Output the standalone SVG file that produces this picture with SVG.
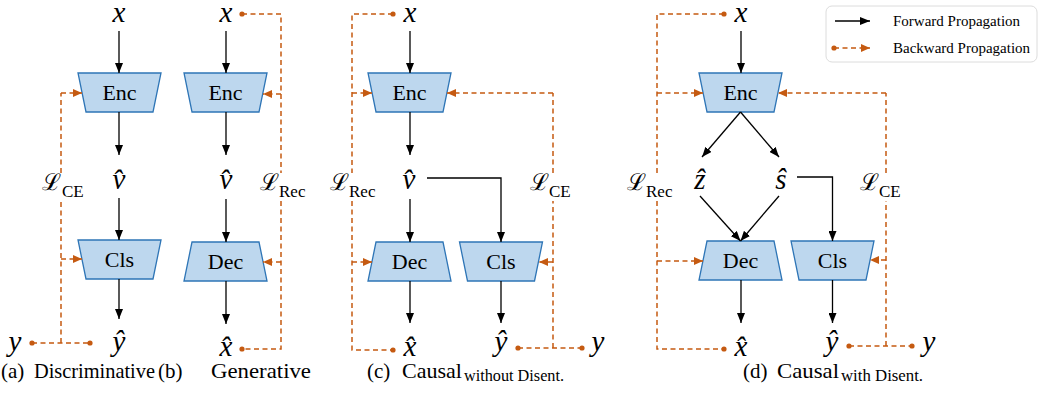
<svg xmlns="http://www.w3.org/2000/svg" width="1038" height="408" viewBox="0 0 1038 408">
<style>
.node{fill:#BDD7EE;stroke:#2E75B6;stroke-width:1.3}
.lbl{font-family:'Liberation Serif','Times New Roman',serif;font-size:22px;text-anchor:middle;fill:#000}
.m{font-family:'Liberation Serif','Times New Roman',serif;font-style:italic;font-size:29px;text-anchor:middle;fill:#000}
.cal{font-family:'DejaVu Serif','Liberation Serif',serif;font-size:23px;fill:#000}
.sub{font-family:'Liberation Serif','Times New Roman',serif;font-size:17px;fill:#000}
.fw{stroke:#000;stroke-width:1.3;fill:none;marker-end:url(#ah)}
.bw{stroke:#C55A11;stroke-width:1.5;fill:none;stroke-dasharray:5,3.5}
.bwa{stroke:#C55A11;stroke-width:1.5;fill:none;stroke-dasharray:5,3.5;marker-end:url(#oh)}
.dot{fill:#C55A11}
.cap{font-family:'Liberation Serif','Times New Roman',serif;font-size:21px;fill:#000}
.capsub{font-family:'Liberation Serif','Times New Roman',serif;font-size:16px;fill:#000}
.leg{font-family:'Liberation Serif','Times New Roman',serif;font-size:15px;fill:#000}
</style>
<defs>
<marker id="ah" markerWidth="10" markerHeight="8" refX="10" refY="4" orient="auto" markerUnits="userSpaceOnUse"><path d="M0,0 L10,4 L0,8 z" fill="#000"/></marker>
<marker id="oh" markerWidth="9" markerHeight="8" refX="9" refY="4" orient="auto" markerUnits="userSpaceOnUse"><path d="M0,0 L9,4 L0,8 z" fill="#C55A11"/></marker>
</defs>
<rect width="1038" height="408" fill="#fff"/>

<!-- Panel (a) -->
<g id="a-enc"><path class="node" d="M78,73 L161,73 L153,112 L86,112 Z"/><text class="lbl" x="119.5" y="100">Enc</text></g>
<g id="a-cls"><path class="node" d="M78,240 L161,240 L153,279 L86,279 Z"/><text class="lbl" x="119.5" y="267">Cls</text></g>
<g id="a-x"><text class="m" x="119" y="22">x</text></g>
<g id="a-v"><text class="m" x="119" y="189">v̂</text></g>
<g id="a-yhat"><text class="m" x="119" y="351">ŷ</text></g>
<g id="a-y"><text class="m" x="15" y="351">y</text></g>
<g id="a-loss"><text x="42" y="190"><tspan class="cal">ℒ</tspan><tspan class="sub" x="62" y="197">CE</tspan></text></g>

<!-- Panel (b) -->
<g id="b-enc"><path class="node" d="M184,73 L267,73 L259,112 L192,112 Z"/><text class="lbl" x="225.5" y="100">Enc</text></g>
<g id="b-dec"><path class="node" d="M192,242 L259,242 L267,281 L184,281 Z"/><text class="lbl" x="225.5" y="269">Dec</text></g>
<g id="b-x"><text class="m" x="226" y="22">x</text></g>
<g id="b-v"><text class="m" x="226" y="189">v̂</text></g>
<g id="b-xhat"><text class="m" x="226" y="356">x̂</text></g>
<g id="b-loss"><text x="260" y="190"><tspan class="cal">ℒ</tspan><tspan class="sub" x="279" y="197">Rec</tspan></text></g>

<!-- Panel (c) -->
<g id="c-enc"><path class="node" d="M368,73 L451,73 L443,112 L376,112 Z"/><text class="lbl" x="409.5" y="100">Enc</text></g>
<g id="c-dec"><path class="node" d="M376,242 L443,242 L451,281 L368,281 Z"/><text class="lbl" x="409.5" y="269">Dec</text></g>
<g id="c-cls"><path class="node" d="M459.5,242 L542.5,242 L534.5,281 L467.5,281 Z"/><text class="lbl" x="501" y="269">Cls</text></g>
<g id="c-x"><text class="m" x="410" y="22">x</text></g>
<g id="c-v"><text class="m" x="409" y="189">v̂</text></g>
<g id="c-xhat"><text class="m" x="410" y="356">x̂</text></g>
<g id="c-yhat"><text class="m" x="501" y="351">ŷ</text></g>
<g id="c-y"><text class="m" x="598" y="351">y</text></g>
<g id="c-lossrec"><text x="330" y="190"><tspan class="cal">ℒ</tspan><tspan class="sub" x="349" y="197">Rec</tspan></text></g>
<g id="c-lossce"><text x="530" y="190"><tspan class="cal">ℒ</tspan><tspan class="sub" x="549" y="197">CE</tspan></text></g>

<!-- Panel (d) -->
<g id="d-enc"><path class="node" d="M699,73 L782,73 L774,112 L707,112 Z"/><text class="lbl" x="740.5" y="100">Enc</text></g>
<g id="d-dec"><path class="node" d="M707,241 L774,241 L782,280 L699,280 Z"/><text class="lbl" x="740.5" y="268">Dec</text></g>
<g id="d-cls"><path class="node" d="M791,241 L874,241 L866,280 L799,280 Z"/><text class="lbl" x="832.5" y="268">Cls</text></g>
<g id="d-x"><text class="m" x="741" y="22">x</text></g>
<g id="d-z"><text class="m" x="700" y="189">ẑ</text></g>
<g id="d-s"><text class="m" x="781" y="189">ŝ</text></g>
<g id="d-xhat"><text class="m" x="741" y="356">x̂</text></g>
<g id="d-yhat"><text class="m" x="832" y="351">ŷ</text></g>
<g id="d-y"><text class="m" x="929" y="351">y</text></g>
<g id="d-lossrec"><text x="627" y="190"><tspan class="cal">ℒ</tspan><tspan class="sub" x="646" y="197">Rec</tspan></text></g>
<g id="d-lossce"><text x="860" y="190"><tspan class="cal">ℒ</tspan><tspan class="sub" x="879" y="197">CE</tspan></text></g>

<g id="connectors">
<path class="fw" d="M119,31 L119,73"/>
<path class="fw" d="M119,112 L119,155"/>
<path class="fw" d="M119,198 L119,240"/>
<path class="fw" d="M119,279 L119,319"/>
<path class="bw" d="M32,343 L90,343"/>
<path class="bw" d="M61,343 L61,201"/>
<path class="bw" d="M61,173 L61,93"/>
<path class="bwa" d="M61,93 L82,93"/>
<path class="bwa" d="M61,259 L82,259"/>
<circle class="dot" cx="32" cy="343" r="2.6"/><circle class="dot" cx="90" cy="343" r="2.6"/>

<path class="fw" d="M226,31 L226,73"/>
<path class="fw" d="M226,112 L226,155"/>
<path class="fw" d="M226,199 L226,242"/>
<path class="fw" d="M226,281 L226,324"/>
<path class="bw" d="M242,14 L281,14 L281,173"/>
<path class="bw" d="M281,201 L281,349 L242,349"/>
<path class="bwa" d="M281,94 L263,94"/>
<path class="bwa" d="M281,262 L263,262"/>
<circle class="dot" cx="242" cy="14" r="2.6"/><circle class="dot" cx="242" cy="349" r="2.6"/>

<path class="fw" d="M410,31 L410,73"/>
<path class="fw" d="M410,112 L410,155"/>
<path class="fw" d="M410,199 L410,242"/>
<path class="fw" d="M410,281 L410,323"/>
<path class="fw" d="M427,178 L501,178 L501,242"/>
<path class="fw" d="M501,281 L501,323"/>
<path class="bw" d="M393,14 L352,14 L352,173"/>
<path class="bw" d="M352,201 L352,350 L393,350"/>
<path class="bwa" d="M352,93 L372,93"/>
<path class="bwa" d="M352,262 L372,262"/>
<path class="bw" d="M518,348 L582,348"/>
<path class="bw" d="M553,348 L553,201"/>
<path class="bw" d="M553,173 L553,93"/>
<path class="bwa" d="M553,93 L447,93"/>
<path class="bwa" d="M553,262 L539,262"/>
<circle class="dot" cx="393" cy="14" r="2.6"/><circle class="dot" cx="393" cy="350" r="2.6"/>
<circle class="dot" cx="518" cy="348" r="2.6"/><circle class="dot" cx="582" cy="348" r="2.6"/>

<path class="fw" d="M741,31 L741,73"/>
<path class="fw" d="M740.5,112 L702,157"/>
<path class="fw" d="M740.5,112 L779,157"/>
<path class="fw" d="M700,196 L740.5,241"/>
<path class="fw" d="M779,196 L740.5,241"/>
<path class="fw" d="M797,177 L832.5,177 L832.5,241"/>
<path class="fw" d="M741,280 L741,323"/>
<path class="fw" d="M832.5,280 L832.5,323"/>
<path class="bw" d="M724,14 L657,14 L657,173"/>
<path class="bw" d="M657,201 L657,349 L724,349"/>
<path class="bwa" d="M657,93 L703,93"/>
<path class="bwa" d="M657,261 L703,261"/>
<path class="bw" d="M849,346 L912,346"/>
<path class="bw" d="M886,346 L886,201"/>
<path class="bw" d="M886,173 L886,93"/>
<path class="bwa" d="M886,93 L778,93"/>
<path class="bwa" d="M886,260 L870,260"/>
<circle class="dot" cx="724" cy="14" r="2.6"/><circle class="dot" cx="724" cy="349" r="2.6"/>
<circle class="dot" cx="849" cy="346" r="2.6"/><circle class="dot" cx="912" cy="346" r="2.6"/>
</g>

<g id="legend">
<rect x="826" y="6" width="211" height="56" rx="6" fill="#fff" stroke="#dcdcdc" stroke-width="1"/>
<path class="fw" d="M835,21 L870,21"/>
<text class="leg" x="893" y="26">Forward Propagation</text>
<path class="bwa" d="M834,48 L870,48"/>
<circle class="dot" cx="834" cy="48" r="2.6"/>
<text class="leg" x="893" y="53">Backward Propagation</text>
</g>

<g id="captions">
<text class="cap" x="1" y="378">(a)<tspan x="34" textLength="121" lengthAdjust="spacingAndGlyphs">Discriminative</tspan></text>
<text class="cap" x="158" y="378">(b)<tspan x="211" textLength="100" lengthAdjust="spacingAndGlyphs">Generative</tspan></text>
<text class="cap" x="367" y="378">(c)<tspan x="402" textLength="60" lengthAdjust="spacingAndGlyphs">Causal</tspan><tspan class="capsub" x="464" dy="3" textLength="100" lengthAdjust="spacingAndGlyphs">without Disent.</tspan></text>
<text class="cap" x="743" y="378">(d)<tspan x="777" textLength="62" lengthAdjust="spacingAndGlyphs">Causal</tspan><tspan class="capsub" x="841" dy="3" textLength="82" lengthAdjust="spacingAndGlyphs">with Disent.</tspan></text>
</g>
</svg>
